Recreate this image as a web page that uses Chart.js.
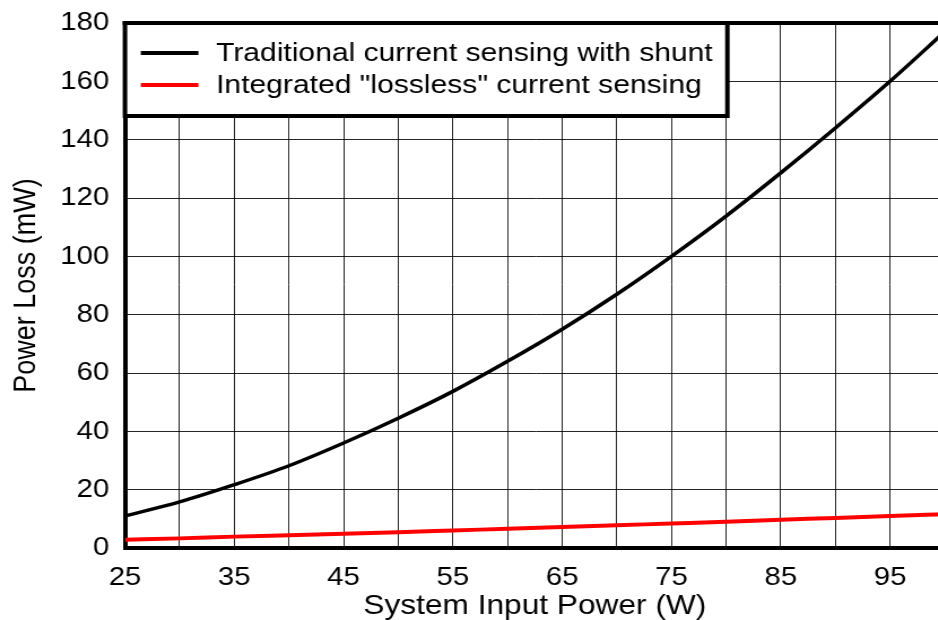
<!DOCTYPE html>
<html>
<head>
<meta charset="utf-8">
<script src="https://cdn.jsdelivr.net/npm/chart.js@4"></script>
<style>
  html, body { margin: 0; padding: 0; width: 938px; height: 620px; overflow: hidden; background: #fff; }
  /* the reference is a bit wider than tall in its glyphs, so stretch horizontally */
  #wrap { width: 850px; height: 640px; transform: scaleX(1.13); transform-origin: 0 0; }
</style>
</head>
<body>
<div id="wrap"><canvas id="chart" width="850" height="640"></canvas></div>
<script>
// Data
const inputPower = [25, 30, 35, 40, 45, 50, 55, 60, 65, 70, 75, 80, 85, 90, 95, 100];
const shuntLoss = [11, 15.8, 21.7, 28.2, 36, 44.5, 53.7, 64, 75, 87, 100, 113.8, 128.6, 144, 160, 177];
const losslessLoss = [2.8, 3.3, 3.9, 4.4, 4.9, 5.4, 6.0, 6.6, 7.2, 7.8, 8.4, 9.0, 9.7, 10.3, 11.0, 11.6];
const seriesLabels = ['Traditional current sensing with shunt', 'Integrated "lossless" current sensing'];
const seriesColors = ['#000000', '#ff0000'];
const xLabelTicks = [25, 35, 45, 55, 65, 75, 85, 95];

const FONT = "'Liberation Sans', Arial, sans-serif";

// Draws the top frame line and the boxed legend inside the plot area
const frameLegend = {
    id: 'frameLegend',
    afterDatasetsDraw(chart) {
        const ctx = chart.ctx;
        const area = chart.chartArea;
        ctx.save();

        // top border
        ctx.strokeStyle = '#000';
        ctx.lineWidth = 4;
        ctx.beginPath();
        ctx.moveTo(area.left - 2, area.top);
        ctx.lineTo(chart.width, area.top);
        ctx.stroke();

        // legend box
        ctx.font = '26.6px ' + FONT;
        const textX = 80.6;
        let maxW = 0;
        seriesLabels.forEach(function(t) { maxW = Math.max(maxW, ctx.measureText(t).width); });
        const boxW = textX + maxW + 13;
        const boxH = 93;
        ctx.fillStyle = '#fff';
        ctx.fillRect(area.left, area.top, boxW, boxH);
        ctx.strokeRect(area.left, area.top, boxW, boxH);

        const rows = [30, 62];
        chart.data.datasets.forEach(function(ds, i) {
            const y = area.top + rows[i];
            ctx.strokeStyle = ds.borderColor;
            ctx.lineWidth = 4;
            ctx.beginPath();
            ctx.moveTo(area.left + 14, y);
            ctx.lineTo(area.left + 65, y);
            ctx.stroke();
            ctx.fillStyle = '#000';
            ctx.textBaseline = 'middle';
            ctx.textAlign = 'left';
            ctx.fillText(ds.label, area.left + textX, y + 1);
        });
        ctx.restore();
    }
};

new Chart(document.getElementById('chart'), {
    type: 'line',
    data: {
        datasets: [
            {
                label: seriesLabels[0],
                data: inputPower.map((x, i) => ({ x: x, y: shuntLoss[i] })),
                borderColor: seriesColors[0],
                borderWidth: 3.5,
                pointRadius: 0,
                tension: 0.4,
                cubicInterpolationMode: 'monotone'
            },
            {
                label: seriesLabels[1],
                data: inputPower.map((x, i) => ({ x: x, y: losslessLoss[i] })),
                borderColor: seriesColors[1],
                borderWidth: 4,
                pointRadius: 0,
                tension: 0.4,
                cubicInterpolationMode: 'monotone'
            }
        ]
    },
    options: {
        responsive: false,
        animation: false,
        devicePixelRatio: 1,
        layout: { padding: { top: 0, right: 11, left: 0, bottom: 0 } },
        plugins: {
            legend: { display: false },
            tooltip: { enabled: false }
        },
        scales: {
            x: {
                type: 'linear',
                min: 25,
                max: 100,
                grid: { color: 'rgba(0,0,0,0.85)', lineWidth: 1, drawTicks: false },
                border: { color: '#000', width: 4 },
                ticks: {
                    stepSize: 5,
                    padding: 14,
                    color: '#000',
                    font: { family: FONT, size: 26 },
                    maxRotation: 0,
                    autoSkip: false,
                    callback: function(v) { return xLabelTicks.includes(v) ? String(v) : ''; }
                },
                title: {
                    display: true,
                    text: 'System Input Power (W)',
                    color: '#000',
                    font: { family: FONT, size: 28 },
                    padding: { top: 0, bottom: 17 }
                },
                afterFit: function(scale) { scale.height = 92; }
            },
            y: {
                min: 0,
                max: 180,
                grid: { color: 'rgba(0,0,0,0.85)', lineWidth: 1, drawTicks: false },
                border: { color: '#000', width: 4 },
                ticks: {
                    stepSize: 20,
                    padding: 14,
                    color: '#000',
                    font: { family: FONT, size: 26 }
                },
                title: {
                    display: true,
                    text: 'Power Loss (mW)',
                    color: '#000',
                    font: { family: FONT, size: 27 },
                    padding: { top: 7, bottom: 0 }
                },
                afterFit: function(scale) {
                    scale.width = 110.6;
                    scale.paddingTop = 23;
                    scale.paddingBottom = 0;
                }
            }
        }
    },
    plugins: [frameLegend]
});
</script>
</body>
</html>
